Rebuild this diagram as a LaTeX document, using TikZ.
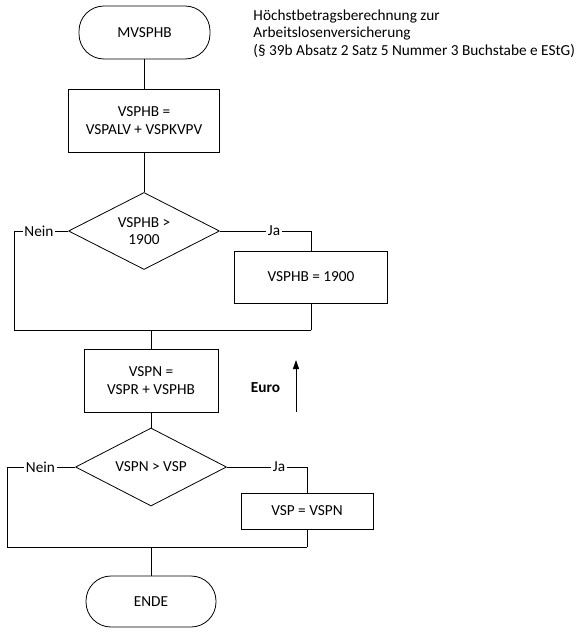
\documentclass[tikz,border=0pt]{standalone}
\usepackage{fontspec}
\setmainfont{Carlito}
\usetikzlibrary{shapes.geometric,arrows.meta}
\begin{document}
\begin{tikzpicture}[x=1pt,y=-1pt,
  font=\fontsize{15.3}{17.6}\selectfont,
  line width=0.95pt,
  term/.style={draw, rectangle, rounded corners=25pt, minimum width=131pt, minimum height=53pt, inner sep=0pt, line width=0.8pt},
  proc/.style={draw, rectangle, align=center, inner sep=0pt},
  dec/.style={draw, diamond, aspect=1.96, inner sep=0pt, align=center, line width=0.8pt},
  lbl/.style={inner sep=1.5pt},
  conn/.style={draw}]
\useasboundingbox (0,0) rectangle (580,636);

% title
\node[align=left, anchor=west, inner sep=0pt] (title) at (253,33.5)
  {Höchstbetragsberechnung zur\\Arbeitslosenversicherung\\(§ 39b Absatz 2 Satz 5 Nummer 3 Buchstabe e EStG)};

% upper part
\node[term] (start) at (144.5,32.5) {MVSPHB};
\node[proc, minimum width=151pt, minimum height=63pt] (b1) at (144,120.5) {VSPHB =\\VSPALV + VSPKVPV};
\node[dec, minimum width=151pt, minimum height=77pt] (d1) at (144,231) {VSPHB >\\1900};
\node[lbl] (n1) at (39,231) {Nein};
\node[lbl] (j1) at (274,231) {Ja};
\node[proc, minimum width=153pt, minimum height=52pt] (b2) at (311,277) {VSPHB = 1900};
\coordinate (n1c) at (14,231);
\coordinate (j1c) at (311,231);
\coordinate (m1l) at (14,330);
\coordinate (m1r) at (311,330);
\coordinate (m1) at (151,330);

% middle
\node[proc, minimum width=134pt, minimum height=63pt] (b3) at (151,380.5) {VSPN =\\VSPR + VSPHB};
\node[font=\fontsize{15.3}{17.6}\selectfont\bfseries, inner sep=0pt] (euro) at (265.5,388) {Euro};
\coordinate (ea) at (296,412);
\coordinate (eb) at (296,360);

% lower part
\node[dec, minimum width=151pt, minimum height=78pt] (d2) at (151,467) {VSPN > VSP};
\node[lbl] (n2) at (40.5,467) {Nein};
\node[lbl] (j2) at (279,467) {Ja};
\node[proc, minimum width=132pt, minimum height=36pt] (b4) at (307,511) {VSP = VSPN};
\coordinate (n2c) at (7,467);
\coordinate (j2c) at (307,467);
\coordinate (m2l) at (7,547);
\coordinate (m2r) at (307,547);
\coordinate (m2) at (151,547);
\node[term, minimum width=130pt, minimum height=51pt] (ende) at (151,601.5) {ENDE};

% connectors
\draw[conn] (start.south) -- (start.south |- b1.north);
\draw[conn] (b1) -- (d1);
\draw[conn] (d1.west) -- (n1.east);
\draw[conn] (n1.west) -- (n1c) -- (m1l) -- (m1r);
\draw[conn] (d1.east) -- (j1.west);
\draw[conn] (j1.east) -- (j1c) -- (b2.north);
\draw[conn] (b2.south) -- (m1r);
\draw[conn] (m1) -- (b3.north);
\draw[-{Triangle[length=9pt,width=6pt]}] (ea) -- (eb);
\draw[conn] (b3) -- (d2);
\draw[conn] (d2.west) -- (n2.east);
\draw[conn] (n2.west) -- (n2c) -- (m2l) -- (m2r);
\draw[conn] (d2.east) -- (j2.west);
\draw[conn] (j2.east) -- (j2c) -- (b4.north);
\draw[conn] (b4.south) -- (m2r);
\draw[conn] (m2) -- (ende.north);
\end{tikzpicture}
\end{document}
